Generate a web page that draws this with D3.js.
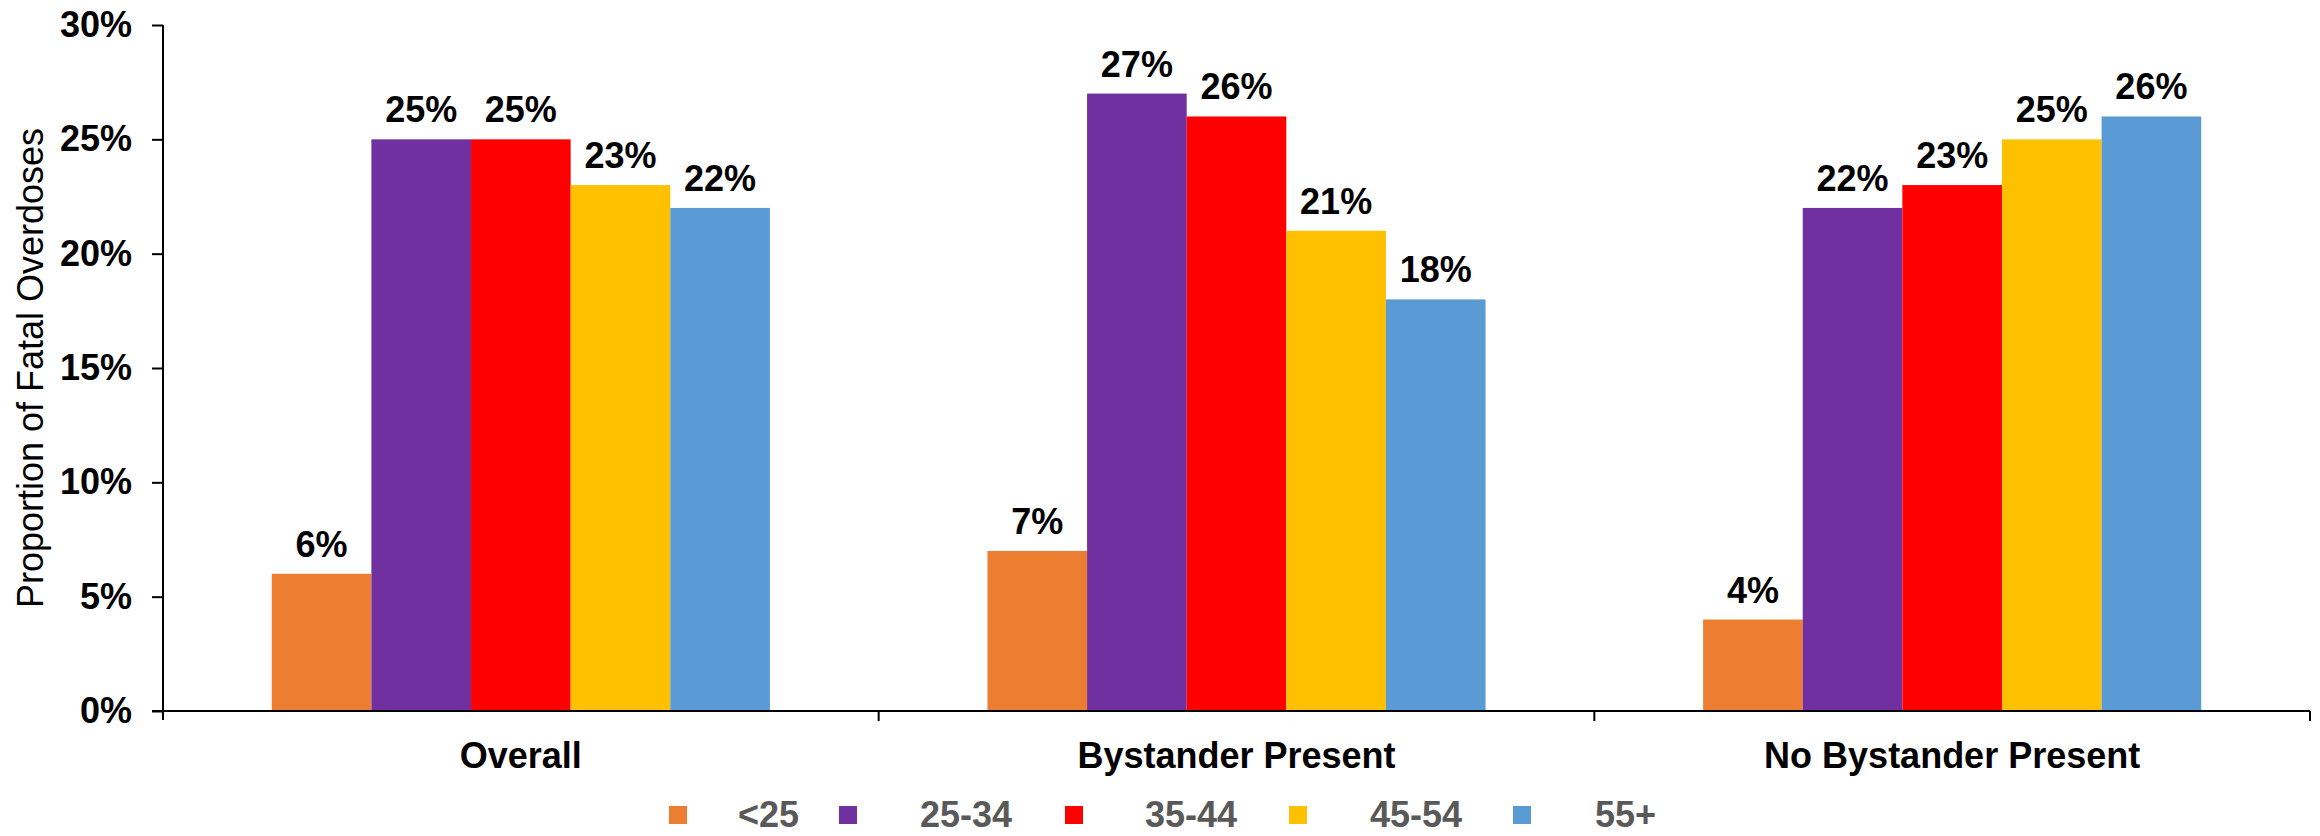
<!DOCTYPE html>
<html>
<head>
<meta charset="utf-8">
<script src="https://cdn.jsdelivr.net/npm/d3@7/dist/d3.min.js"></script>
<style>
  html, body { margin: 0; padding: 0; background: #fff; }
  svg { display: block; font-family: "Liberation Sans", Arial, Helvetica, sans-serif; }
</style>
</head>
<body>
<svg id="chart" width="2320" height="836"></svg>
<script>
// Fatal overdoses by age group, split by bystander presence
const categories = ["Overall", "Bystander Present", "No Bystander Present"];
const ageGroups = ["<25", "25-34", "35-44", "45-54", "55+"];
const under25 = [6, 7, 4];
const age25to34 = [25, 27, 22];
const age35to44 = [25, 26, 23];
const age45to54 = [23, 21, 25];
const age55plus = [22, 18, 26];
const yTicks = [0, 5, 10, 15, 20, 25, 30];
const colors = ["#ED7D31", "#7030A0", "#FF0000", "#FFC000", "#5B9BD5"];

const seriesValues = [under25, age25to34, age35to44, age45to54, age55plus];

const svg = d3.select("#chart");
const margin = { left: 163, right: 10, top: 25, bottom: 125 };
const W = 2320, H = 836;
const plotBottom = H - margin.bottom; // 711

const y = d3.scaleLinear().domain([0, 30]).range([plotBottom, margin.top]);
const x0 = d3.scaleBand().domain(categories).range([margin.left, W - margin.right]).paddingInner(0).paddingOuter(0);
const groupW = x0.bandwidth() * 0.696;
const x1 = d3.scaleBand().domain(ageGroups).range([0, groupW]).padding(0);

// Bars and value labels
const groups = svg.append("g").selectAll("g")
  .data(categories)
  .join("g")
  .attr("transform", d => `translate(${x0(d) + (x0.bandwidth() - groupW) / 2},0)`);

groups.selectAll("rect")
  .data((c, ci) => ageGroups.map((a, ai) => ({ a, ai, v: seriesValues[ai][ci] })))
  .join("rect")
  .attr("x", d => x1(d.a))
  .attr("width", x1.bandwidth())
  .attr("y", d => y(d.v))
  .attr("height", d => y(0) - y(d.v))
  .attr("fill", d => colors[d.ai]);

groups.selectAll("text.val")
  .data((c, ci) => ageGroups.map((a, ai) => ({ a, ai, v: seriesValues[ai][ci] })))
  .join("text")
  .attr("class", "val")
  .attr("x", d => x1(d.a) + x1.bandwidth() / 2)
  .attr("y", d => y(d.v) - 17)
  .attr("text-anchor", "middle")
  .attr("font-size", 36)
  .attr("font-weight", "bold")
  .attr("fill", "#000")
  .text(d => d.v + "%");

// Y axis
const yAxis = d3.axisLeft(y).tickValues(yTicks).tickSize(11).tickPadding(20).tickFormat(d => d + "%");
const yg = svg.append("g").attr("transform", `translate(${margin.left},0)`).call(yAxis);
yg.select(".domain").remove();
yg.selectAll(".tick line").attr("stroke", "#000").attr("stroke-width", 2);
yg.selectAll(".tick text")
  .attr("font-size", 36).attr("font-weight", "bold").attr("fill", "#000")
  .attr("font-family", "Liberation Sans, Arial, sans-serif");
yg.append("line")
  .attr("x1", 0).attr("x2", 0)
  .attr("y1", y(30)).attr("y2", plotBottom + 9)
  .attr("stroke", "#000").attr("stroke-width", 2);

// X axis with separators between categories
const xg = svg.append("g");
xg.append("line")
  .attr("x1", margin.left - 11).attr("x2", W - margin.right)
  .attr("y1", plotBottom).attr("y2", plotBottom)
  .attr("stroke", "#000").attr("stroke-width", 2);
const bounds = categories.map(c => x0(c)).concat([x0(categories[categories.length - 1]) + x0.bandwidth()]);
xg.selectAll("line.sep")
  .data(bounds.slice(1))
  .join("line")
  .attr("class", "sep")
  .attr("x1", d => d).attr("x2", d => d)
  .attr("y1", plotBottom).attr("y2", plotBottom + 10)
  .attr("stroke", "#000").attr("stroke-width", 2);
xg.selectAll("text.cat")
  .data(categories)
  .join("text")
  .attr("class", "cat")
  .attr("x", d => x0(d) + x0.bandwidth() / 2)
  .attr("y", 768)
  .attr("text-anchor", "middle")
  .attr("font-size", 36)
  .attr("font-weight", "bold")
  .attr("fill", "#000")
  .text(d => d);

// Y axis title
svg.append("text")
  .attr("transform", `translate(43, ${(margin.top + plotBottom) / 2}) rotate(-90)`)
  .attr("text-anchor", "middle")
  .attr("font-size", 36)
  .attr("fill", "#000")
  .text("Proportion of Fatal Overdoses");

// Legend
const legendStart = [669, 839, 1065, 1289, 1513];
const legendTextOffset = [69, 81, 80, 81, 82];
const lg = svg.append("g").selectAll("g")
  .data(ageGroups)
  .join("g")
  .attr("transform", (d, i) => `translate(${legendStart[i]}, 806)`);
lg.append("rect")
  .attr("width", 18).attr("height", 18)
  .attr("fill", (d, i) => colors[i]);
lg.append("text")
  .attr("x", (d, i) => legendTextOffset[i])
  .attr("y", 21)
  .attr("font-size", 36)
  .attr("font-weight", "bold")
  .attr("fill", "#595959")
  .text(d => d);
</script>
</body>
</html>
